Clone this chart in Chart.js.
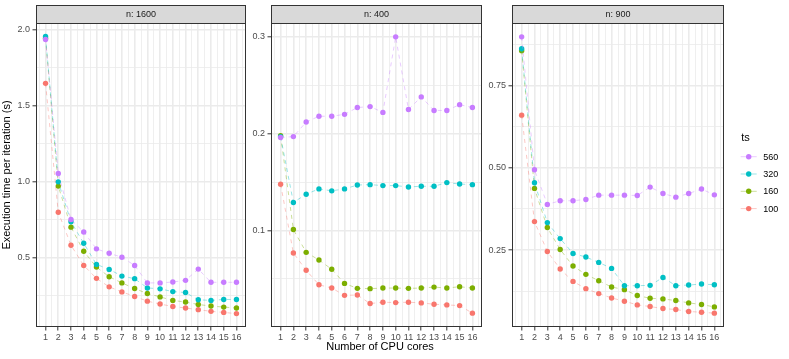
<!DOCTYPE html>
<html><head><meta charset="utf-8">
<script src="https://cdn.jsdelivr.net/npm/chart.js@4/dist/chart.umd.min.js"></script>
<style>
html,body{margin:0;padding:0;background:#fff;}
#wrap{position:relative;width:789px;height:359px;overflow:hidden;background:#fff;}
.pc{position:absolute;top:0;height:359px;}
canvas{display:block;}
</style></head><body>
<div id="wrap">
<div class="pc" style="left:0px;width:250px"><canvas id="c1" width="250" height="359"></canvas></div>
<div class="pc" style="left:250px;width:236px"><canvas id="c2" width="236" height="359"></canvas></div>
<div class="pc" style="left:486px;width:303px"><canvas id="c3" width="303" height="359"></canvas></div>
</div>
<script>
// ---------- data ----------
const cores = [1,2,3,4,5,6,7,8,9,10,11,12,13,14,15,16];
const tsLevels = ['560','320','160','100'];
const panelTitles = ['n: 1600','n: 400','n: 900'];

const n1600_ts560 = [1.937,1.055,0.752,0.670,0.559,0.530,0.504,0.450,0.335,0.335,0.341,0.352,0.426,0.339,0.339,0.339];
const n1600_ts320 = [1.956,1.000,0.737,0.596,0.457,0.424,0.380,0.363,0.302,0.296,0.278,0.272,0.224,0.220,0.226,0.226];
const n1600_ts160 = [1.945,0.972,0.702,0.543,0.439,0.376,0.335,0.298,0.265,0.243,0.220,0.209,0.193,0.183,0.176,0.170];
const n1600_ts100 = [1.648,0.800,0.583,0.450,0.365,0.309,0.276,0.246,0.215,0.196,0.180,0.170,0.159,0.148,0.141,0.133];

const n400_ts560 = [0.196,0.197,0.212,0.218,0.218,0.220,0.227,0.228,0.222,0.300,0.225,0.238,0.224,0.224,0.230,0.227];
const n400_ts320 = [0.197,0.129,0.1375,0.143,0.141,0.143,0.147,0.1474,0.1464,0.1464,0.145,0.1457,0.1457,0.1495,0.148,0.1474];
const n400_ts160 = [0.198,0.101,0.0775,0.0696,0.060,0.0454,0.0403,0.040,0.0406,0.0406,0.0403,0.0406,0.0416,0.0406,0.042,0.0406];
const n400_ts100 = [0.1478,0.0768,0.059,0.044,0.0406,0.0331,0.0334,0.0246,0.026,0.0256,0.026,0.0253,0.0239,0.0232,0.0225,0.0147];

const n900_ts560 = [0.898,0.494,0.389,0.400,0.400,0.404,0.417,0.417,0.417,0.416,0.4415,0.422,0.411,0.422,0.4355,0.418];
const n900_ts320 = [0.862,0.4546,0.3337,0.285,0.240,0.229,0.2127,0.1945,0.142,0.142,0.143,0.167,0.142,0.144,0.147,0.145];
const n900_ts160 = [0.856,0.4375,0.3186,0.252,0.2016,0.1764,0.157,0.138,0.130,0.112,0.1038,0.1018,0.0968,0.0897,0.0847,0.0776];
const n900_ts100 = [0.660,0.3367,0.246,0.1925,0.155,0.133,0.118,0.1048,0.0948,0.0837,0.0786,0.0726,0.0696,0.0635,0.0615,0.0585];

const n1600_yMajor = [0.5,1.0,1.5,2.0];
const n1600_yLabels = ['0.5','1.0','1.5','2.0'];
const n1600_yMinor = [0.25,0.75,1.25,1.75];
const n400_yMajor = [0.1,0.2,0.3];
const n400_yLabels = ['0.1','0.2','0.3'];
const n400_yMinor = [0.05,0.15,0.25];
const n900_yMajor = [0.25,0.5,0.75];
const n900_yLabels = ['0.25','0.50','0.75'];
const n900_yMinor = [0.125,0.375,0.625,0.875];

const n1600_yRange = [0.045, 2.045];
const n400_yRange = [0.0004, 0.3143];
const n900_yRange = [0.0165, 0.940];
const xRange = [0.25, 16.75];

const xTitle = 'Number of CPU cores';
const yTitle = 'Execution time per iteration (s)';
const legendTitle = 'ts';

// ---------- styling ----------
const FONT = '"Liberation Sans", Arial, Helvetica, sans-serif';
const COLORS = {'560':'#C77CFF','320':'#00BFC4','160':'#7CAE00','100':'#F8766D'};
function rgba(hex, a){
  const n = parseInt(hex.slice(1),16);
  return `rgba(${(n>>16)&255},${(n>>8)&255},${n&255},${a})`;
}
const LINE_ALPHA = 0.4;
const PT_R = 2.7;

function approxIn(v, arr){ return arr.some(a => Math.abs(a - v) < 1e-9); }

const panelDeco = {
  id: 'panelDeco',
  afterDraw(chart, args, o) {
    const {ctx, chartArea: a} = chart;
    ctx.save();
    const L = Math.round(a.left) + 0.5, R = Math.round(a.right) - 0.5;
    const T = Math.round(a.top) + 0.5, B = Math.round(a.bottom) - 0.5;
    ctx.lineWidth = 1;
    ctx.strokeStyle = '#333333';
    ctx.strokeRect(L, T, R - L, B - T);
    const sT = 5.5;
    ctx.fillStyle = '#D9D9D9';
    ctx.fillRect(L, sT, R - L, T - sT);
    ctx.strokeRect(L, sT, R - L, T - sT);
    ctx.fillStyle = '#1A1A1A';
    ctx.font = '9px ' + FONT;
    ctx.textAlign = 'center';
    ctx.textBaseline = 'middle';
    ctx.fillText(o.strip, (a.left + a.right) / 2, (sT + T) / 2 + 0.5);
    if (o.xTitle) {
      ctx.fillStyle = '#000000';
      ctx.font = '11px ' + FONT;
      ctx.fillText(o.xTitle, o.xTitleX, 347);
    }
    if (o.legend) {
      const x0 = o.legendX;
      ctx.textAlign = 'left';
      ctx.fillStyle = '#000000';
      ctx.font = '11px ' + FONT;
      ctx.fillText(legendTitle, x0 + 0.5, 138);
      tsLevels.forEach((lv, i) => {
        const y = 156.7 + 17.3 * i;
        ctx.strokeStyle = rgba(COLORS[lv], LINE_ALPHA);
        ctx.lineWidth = 1;
        ctx.beginPath(); ctx.moveTo(x0, y); ctx.lineTo(x0 + 16, y); ctx.stroke();
        ctx.fillStyle = COLORS[lv];
        ctx.beginPath(); ctx.arc(x0 + 8, y, PT_R, 0, Math.PI * 2); ctx.fill();
        ctx.fillStyle = '#000000';
        ctx.font = '9px ' + FONT;
        ctx.fillText(lv, x0 + 22.5, y + 0.5);
      });
    }
    ctx.restore();
  }
};

function makePanel(id, strip, series, yRange, yMajor, yLabels, yMinor, yWidth, padRight, extra) {
  const datasets = tsLevels.map((lv, k) => ({
    label: lv,
    data: series[k].map((v, i) => ({x: cores[i], y: v})),
    borderColor: rgba(COLORS[lv], LINE_ALPHA),
    backgroundColor: COLORS[lv],
    pointBackgroundColor: COLORS[lv],
    pointBorderWidth: 0,
    pointRadius: PT_R,
    borderWidth: 1,
    borderDash: [4, 4],
    tension: 0,
    fill: false
  }));
  const gridColor = '#EBEBEB';
  return new Chart(document.getElementById(id), {
    type: 'line',
    data: {datasets},
    plugins: [panelDeco],
    options: {
      responsive: false,
      animation: false,
      devicePixelRatio: 1,
      layout: {padding: {top: 23, right: padRight, bottom: 0, left: 0}},
      plugins: {
        legend: {display: false},
        tooltip: {enabled: false},
        panelDeco: Object.assign({strip}, extra || {})
      },
      scales: {
        x: {
          type: 'linear',
          min: xRange[0], max: xRange[1],
          bounds: 'data',
          afterBuildTicks: s => {
            const t = [];
            for (let v = 0.5; v <= 16.5; v += 0.5) t.push({value: v});
            s.ticks = t;
          },
          afterFit: s => { s.height = 32; },
          border: {display: false},
          grid: {
            color: gridColor,
            lineWidth: c => Number.isInteger(c.tick.value) ? 1.6 : 0.8,
            tickColor: c => Number.isInteger(c.tick.value) ? '#333333' : 'rgba(0,0,0,0)',
            tickWidth: 1,
            tickLength: 3.5,
            drawTicks: true
          },
          ticks: {
            autoSkip: false, maxRotation: 0, minRotation: 0,
            padding: 1.5,
            color: '#4D4D4D',
            font: {family: FONT, size: 9},
            callback: v => Number.isInteger(v) ? String(v) : ''
          }
        },
        y: {
          type: 'linear',
          min: yRange[0], max: yRange[1],
          bounds: 'data',
          afterBuildTicks: s => {
            s.ticks = yMinor.concat(yMajor).sort((a, b) => a - b).map(v => ({value: v}));
          },
          afterFit: s => { s.width = yWidth; },
          border: {display: false},
          title: extra && extra.yTitle ? {
            display: true, text: extra.yTitle, color: '#000000',
            font: {family: FONT, size: 11}, padding: {top: 0, bottom: 0}
          } : {display: false},
          grid: {
            color: gridColor,
            lineWidth: c => approxIn(c.tick.value, yMajor) ? 1.6 : 0.8,
            tickColor: c => approxIn(c.tick.value, yMajor) ? '#333333' : 'rgba(0,0,0,0)',
            tickWidth: 1,
            tickLength: 3.5,
            drawTicks: true
          },
          ticks: {
            autoSkip: false,
            padding: 2.5,
            color: '#4D4D4D',
            font: {family: FONT, size: 9},
            callback: v => {
              const i = yMajor.findIndex(m => Math.abs(m - v) < 1e-9);
              return i >= 0 ? yLabels[i] : '';
            }
          }
        }
      }
    }
  });
}

makePanel('c1', panelTitles[0], [n1600_ts560, n1600_ts320, n1600_ts160, n1600_ts100],
  n1600_yRange, n1600_yMajor, n1600_yLabels, n1600_yMinor, 36, 2, {yTitle});
makePanel('c2', panelTitles[1], [n400_ts560, n400_ts320, n400_ts160, n400_ts100],
  n400_yRange, n400_yMajor, n400_yLabels, n400_yMinor, 21, 2, {xTitle, xTitleX: 380 - 250});
makePanel('c3', panelTitles[2], [n900_ts560, n900_ts320, n900_ts160, n900_ts100],
  n900_yRange, n900_yMajor, n900_yLabels, n900_yMinor, 26, 65, {legend: true, legendX: 740.7 - 486});
</script>
</body></html>
